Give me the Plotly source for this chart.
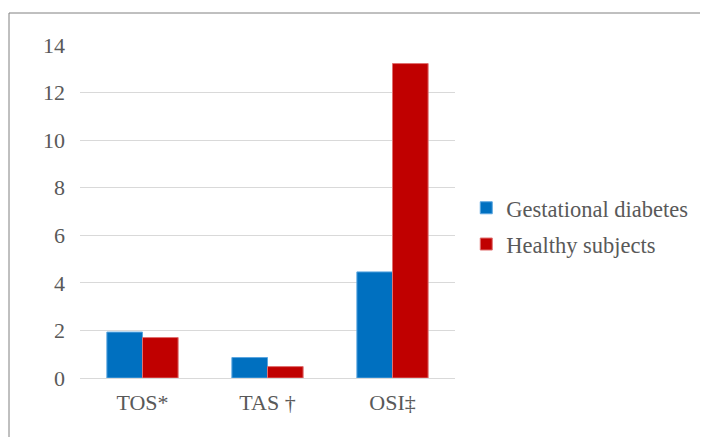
import plotly.graph_objects as go

categories = ["TOS*", "TAS †", "OSI‡"]
gestational = [1.93, 0.86, 4.46]
healthy = [1.70, 0.48, 13.22]
series_names = ["Gestational diabetes", "Healthy subjects"]
y_ticks = [0, 2, 4, 6, 8, 10, 12, 14]

FONT = "Liberation Serif"
TXT = "#595959"

fig = go.Figure()
fig.add_trace(go.Bar(x=categories, y=gestational, name=series_names[0],
                     marker=dict(color="#0070C0", line=dict(color="#5aa6e0", width=1)),
                     legendgroup="a"))
fig.add_trace(go.Bar(x=categories, y=healthy, name=series_names[1],
                     marker=dict(color="#C00000", line=dict(color="#e07070", width=1)),
                     legendgroup="b"))

# browser adds 8px body margin; figure coords = screen - 8
fig.update_layout(
    width=708, height=437,
    margin=dict(l=72, r=261, t=37, b=67),
    paper_bgcolor="white", plot_bgcolor="white",
    font=dict(family=FONT, size=22, color=TXT),
    barmode="group", bargap=0.43, bargroupgap=0,
    legend=dict(x=1.03, y=0.456, xanchor="left", yanchor="middle",
                font=dict(family=FONT, size=22.5, color=TXT), tracegroupgap=4,
                itemwidth=30, bgcolor="rgba(0,0,0,0)"),
    showlegend=True,
)
fig.update_yaxes(range=[0, 14], tickvals=y_ticks, showgrid=True, gridcolor="#d9d9d9",
                 gridwidth=1, zeroline=True, zerolinecolor="#d9d9d9", zerolinewidth=1,
                 showline=False, ticklabelstandoff=14,
                 tickfont=dict(family=FONT, size=22, color=TXT))
fig.update_xaxes(showline=False, ticklabelstandoff=9,
                 tickfont=dict(family=FONT, size=22, color=TXT))

fig.add_shape(type="rect", xref="paper", yref="paper",
              x0=(1 - 72) / 375, x1=(720 - 72) / 375,
              y0=(370 - 450) / 333, y1=(370 - 5) / 333,
              line=dict(color="#808080", width=1), fillcolor="rgba(0,0,0,0)", layer="below")

fig.write_html("out.html")
